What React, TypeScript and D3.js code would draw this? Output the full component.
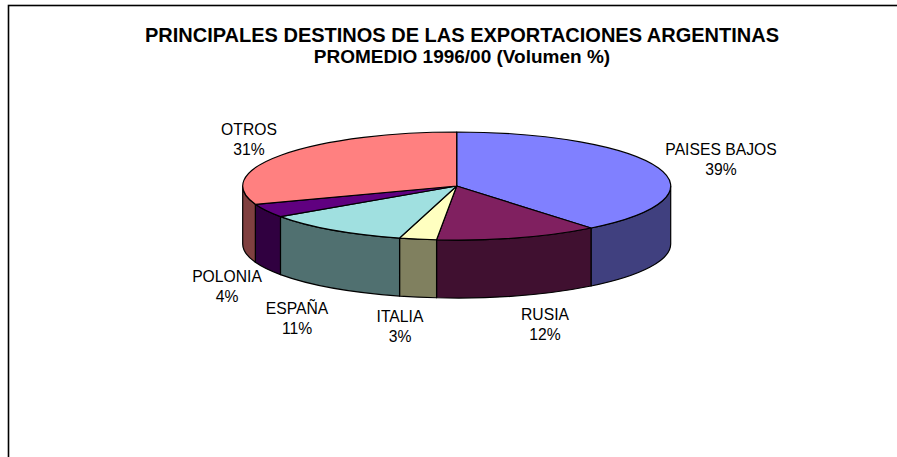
import React, { useEffect } from "react";
import * as d3 from "d3";

const titleLines = [
  "PRINCIPALES DESTINOS DE LAS EXPORTACIONES ARGENTINAS",
  "PROMEDIO 1996/00 (Volumen %)",
];
const titleSizes = [20, 19];
const categories = ["PAISES BAJOS", "RUSIA", "ITALIA", "ESPAÑA", "POLONIA", "OTROS"];
const values = [39.2, 12.3, 2.8, 11.1, 4.1, 30.5];
const percentLabels = ["39%", "12%", "3%", "11%", "4%", "31%"];
const topColors = ["#8080FF", "#802060", "#FFFFC0", "#A0E0E0", "#600080", "#FF8080"];
const sideColors = ["#40407F", "#401030", "#80805F", "#507070", "#300040", "#804040"];
// label anchor positions (center x, first baseline)
const labelPos: [number, number][] = [
  [721, 155],
  [545, 320],
  [400, 322],
  [297, 314],
  [227, 282],
  [249, 135],
];

const W = 897;
const H = 457;
const cx = 456.7;
const cy = 186;
const rx = 214;
const ry = 54;
const depth = 58;

function pt(a: number, dy = 0): [number, number] {
  return [cx + rx * Math.sin(a), cy - ry * Math.cos(a) + dy];
}

function topPath(a0: number, a1: number): string {
  const p0 = pt(a0);
  const p1 = pt(a1);
  const large = a1 - a0 > Math.PI ? 1 : 0;
  return `M${cx},${cy}L${p0[0]},${p0[1]}A${rx},${ry} 0 ${large} 1 ${p1[0]},${p1[1]}Z`;
}

function wallPath(a0: number, a1: number): string | null {
  const b0 = Math.max(a0, Math.PI / 2);
  const b1 = Math.min(a1, (3 * Math.PI) / 2);
  if (b1 <= b0) return null;
  const t0 = pt(b0);
  const t1 = pt(b1);
  const d1 = pt(b1, depth);
  const d0 = pt(b0, depth);
  return `M${t0[0]},${t0[1]}A${rx},${ry} 0 0 1 ${t1[0]},${t1[1]}L${d1[0]},${d1[1]}A${rx},${ry} 0 0 0 ${d0[0]},${d0[1]}Z`;
}

export default function App() {
  useEffect(() => {
    document.documentElement.style.overflow = "hidden";
    document.body.style.overflow = "hidden";
  }, []);
  const pie = d3
    .pie<number>()
    .sort(null)
    .startAngle(0)
    .endAngle(2 * Math.PI)
    .value((d) => d);
  const arcs = pie(values);
  const font = "'Liberation Sans', Arial, sans-serif";

  return (
    <svg
      width={W}
      height={H}
      style={{ position: "absolute", left: 0, top: 0, background: "#fff", display: "block" }}
    >
      <rect x={0} y={0} width={W} height={H} fill="#fff" />
      <rect x={8.5} y={5.5} width={1000} height={1000} fill="none" stroke="#000" strokeWidth={1.6} />
      {titleLines.map((t, i) => (
        <text
          key={i}
          x={462}
          y={42 + i * 21}
          textAnchor="middle"
          fontFamily={font}
          fontWeight="bold"
          fontSize={titleSizes[i]}
          fill="#000"
        >
          {t}
        </text>
      ))}
      <g>
        {arcs.map((a, i) => {
          const p = wallPath(a.startAngle, a.endAngle);
          return p ? (
            <path key={"w" + i} d={p} fill={sideColors[i]} stroke="#000" strokeWidth={1.2} strokeLinejoin="round" />
          ) : null;
        })}
        {arcs.map((a, i) => (
          <path
            key={"t" + i}
            d={topPath(a.startAngle, a.endAngle)}
            fill={topColors[i]}
            stroke="#000"
            strokeWidth={1.2}
            strokeLinejoin="round"
          />
        ))}
      </g>
      {categories.map((c, i) => (
        <text key={"l" + i} textAnchor="middle" fontFamily={font} fontSize={15.7} fill="#000">
          <tspan x={labelPos[i][0]} y={labelPos[i][1]}>
            {c}
          </tspan>
          <tspan x={labelPos[i][0]} y={labelPos[i][1] + 20}>
            {percentLabels[i]}
          </tspan>
        </text>
      ))}
    </svg>
  );
}
